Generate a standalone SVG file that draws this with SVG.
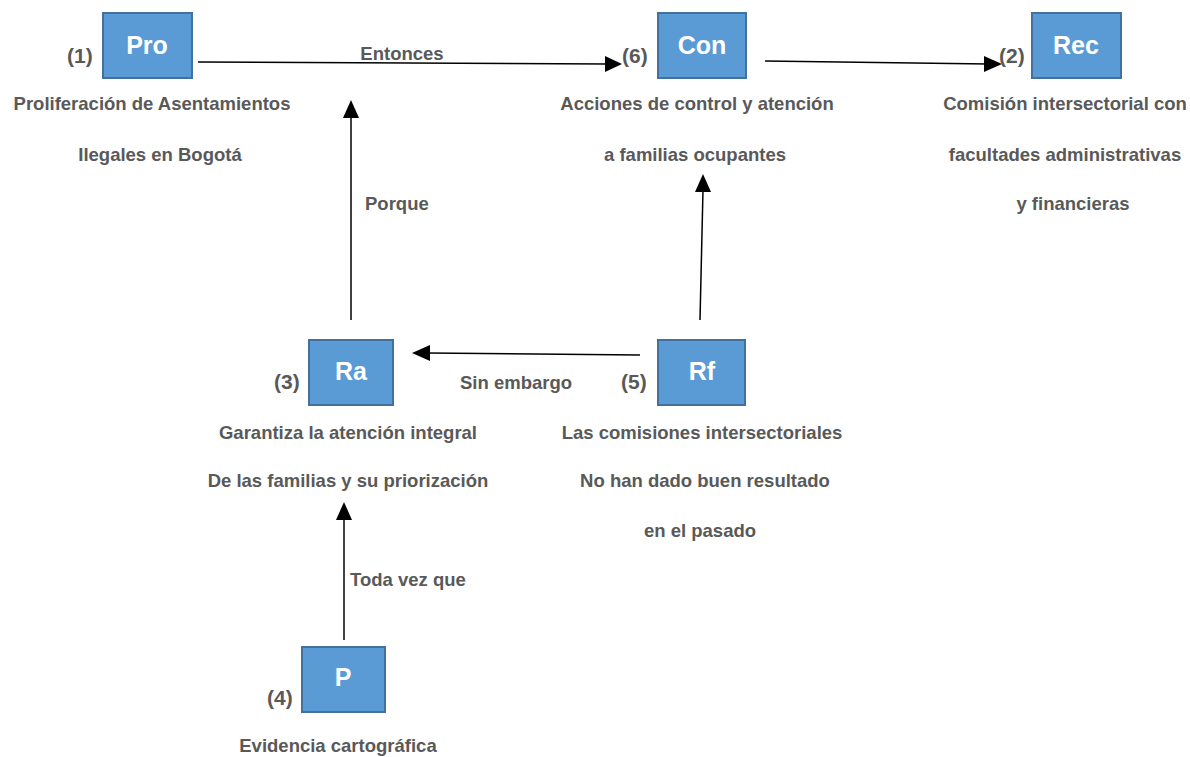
<svg xmlns="http://www.w3.org/2000/svg" width="1190" height="757" viewBox="0 0 1190 757">
<style>
.box{fill:#5B9BD5;stroke:#41719C;stroke-width:2}
.bl{font-family:"Liberation Sans",Arial,sans-serif;font-weight:bold;font-size:25px;fill:#fff;text-anchor:middle}
.t{font-family:"Liberation Sans",Arial,sans-serif;font-weight:bold;font-size:18.5px;fill:#595959}
.c{text-anchor:middle}
.num{font-size:21px}
.ln{stroke:#000;stroke-width:1.5;fill:none}
</style>
<rect width="1190" height="757" fill="#fff"/>
<g id="connectors">
<line class="ln" x1="198" y1="62" x2="608" y2="64"/>
<path d="M605,56 L622,64 L605,72 Z" fill="#000"/>
<line class="ln" x1="765" y1="61" x2="988" y2="64"/>
<path d="M984,56 L1002,64 L984,72 Z" fill="#000"/>
<line class="ln" x1="351" y1="320" x2="351" y2="116"/>
<path d="M343,118 L351,100 L359,118 Z" fill="#000"/>
<line class="ln" x1="700" y1="320" x2="703" y2="190"/>
<path d="M695,192 L703,174 L711,192 Z" fill="#000"/>
<line class="ln" x1="640" y1="355" x2="428" y2="353"/>
<path d="M430,345 L412,353 L430,361 Z" fill="#000"/>
<line class="ln" x1="344" y1="640" x2="344" y2="518"/>
<path d="M336,520 L344,502 L352,520 Z" fill="#000"/>
<text class="t c" x="402" y="60">Entonces</text>
<text class="t" x="365" y="210">Porque</text>
<text class="t" x="460" y="389">Sin embargo</text>
<text class="t" x="350" y="586">Toda vez que</text>
</g>
<g id="node-pro">
<rect class="box" x="103" y="13" width="89" height="65"/>
<text class="bl" x="147" y="54">Pro</text>
<text class="t num" x="67" y="63">(1)</text>
<text class="t c" x="152" y="110">Proliferación de Asentamientos</text>
<text class="t c" x="160" y="161">Ilegales en Bogotá</text>
</g>
<g id="node-con">
<rect class="box" x="658" y="13" width="88" height="65"/>
<text class="bl" x="702" y="54">Con</text>
<text class="t num" x="622" y="63">(6)</text>
<text class="t c" x="697" y="110">Acciones de control y atención</text>
<text class="t c" x="695" y="161">a familias ocupantes</text>
</g>
<g id="node-rec">
<rect class="box" x="1032" y="13" width="89" height="65"/>
<text class="bl" x="1076" y="54">Rec</text>
<text class="t num" x="999" y="63">(2)</text>
<text class="t c" x="1065" y="110">Comisión intersectorial con</text>
<text class="t c" x="1065" y="161">facultades administrativas</text>
<text class="t c" x="1073" y="210">y financieras</text>
</g>
<g id="node-ra">
<rect class="box" x="309" y="340" width="84" height="65"/>
<text class="bl" x="351" y="380">Ra</text>
<text class="t num" x="274" y="389">(3)</text>
<text class="t c" x="348" y="439">Garantiza la atención integral</text>
<text class="t c" x="348" y="487">De las familias y su priorización</text>
</g>
<g id="node-rf">
<rect class="box" x="658" y="340" width="87" height="65"/>
<text class="bl" x="702" y="380">Rf</text>
<text class="t num" x="621" y="389">(5)</text>
<text class="t c" x="702" y="439">Las comisiones intersectoriales</text>
<text class="t c" x="705" y="487">No han dado buen resultado</text>
<text class="t c" x="700" y="537">en el pasado</text>
</g>
<g id="node-p">
<rect class="box" x="302" y="647" width="83" height="65"/>
<text class="bl" x="343" y="686">P</text>
<text class="t num" x="267" y="705">(4)</text>
<text class="t c" x="338" y="752">Evidencia cartográfica</text>
</g>
</svg>
